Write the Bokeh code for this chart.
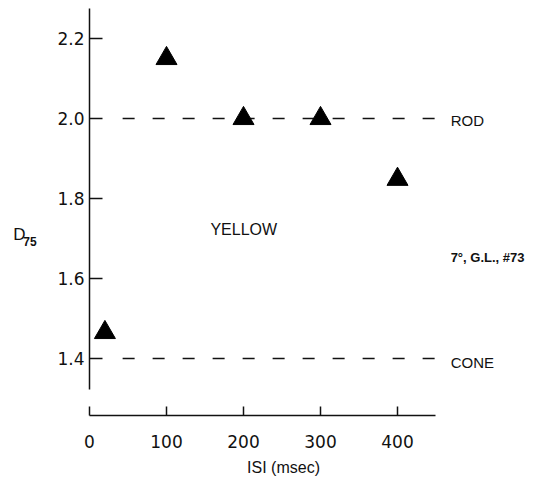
from bokeh.plotting import figure
from bokeh.models import Range1d, LinearAxis, FixedTicker, Label, ColumnDataSource, PrintfTickFormatter
from bokeh.embed import file_html
from bokeh.resources import INLINE

# data
isi = [20, 100, 200, 300, 400]
d75 = [1.465, 2.15, 2.0, 2.0, 1.848]
rod_level = 2.0
cone_level = 1.4
x_ticks = [0, 100, 200, 300, 400]
y_ticks = [1.4, 1.6, 1.8, 2.0, 2.2]
ref_x = [43, 462]

FONT = "Liberation Sans"
TICKFONT = "DejaVu Sans"
INK = "#111111"

p = figure(width=538, height=484, output_backend="svg", toolbar_location=None,
           x_range=Range1d(-115.6, 583.1), y_range=Range1d(1.085, 2.295),
           x_axis_type=None, y_axis_type=None,
           min_border_left=0, min_border_right=0, min_border_top=0, min_border_bottom=0)
p.outline_line_color = None
p.grid.visible = False
p.background_fill_color = "white"
p.border_fill_color = "white"

yax = LinearAxis(ticker=FixedTicker(ticks=y_ticks), bounds=(1.3225, 2.275),
                 formatter=PrintfTickFormatter(format="%.1f"))
yax.fixed_location = 0
yax.major_tick_in = 13
yax.major_tick_out = 0
yax.minor_tick_line_color = None
yax.major_label_standoff = 5
yax.axis_line_width = 1.5
yax.major_tick_line_width = 1.5
yax.axis_line_color = INK
yax.major_tick_line_color = INK
yax.major_label_text_font = TICKFONT
yax.major_label_text_font_size = "17px"
yax.major_label_text_color = INK
p.add_layout(yax, "left")

xax = LinearAxis(ticker=FixedTicker(ticks=x_ticks), bounds=(0, 449))
xax.fixed_location = 1.2575
xax.major_tick_in = 9
xax.major_tick_out = 0
xax.minor_tick_line_color = None
xax.major_label_standoff = 19
xax.axis_line_width = 1.5
xax.major_tick_line_width = 1.5
xax.axis_line_color = INK
xax.major_tick_line_color = INK
xax.major_label_text_font = TICKFONT
xax.major_label_text_font_size = "17px"
xax.major_label_text_color = INK
p.add_layout(xax, "below")

for lvl in (rod_level, cone_level):
    p.line(ref_x, [lvl, lvl], line_color=INK, line_width=1.5, line_dash="12 18")

src = ColumnDataSource(data=dict(x=isi, y=d75))
p.scatter("x", "y", source=src, marker="triangle", size=21, fill_color="black", line_color="black")

def lab(x, y, t, size, align="left", style="normal", font=FONT):
    p.add_layout(Label(x=x, y=y, text=t, text_font=font, text_font_size=size, text_color=INK,
                       text_align=align, text_baseline="middle", text_font_style=style))

lab(469, rod_level - 0.005, "ROD", "15px")
lab(469, cone_level - 0.01, "CONE", "15px")
lab(157, 1.7225, "YELLOW", "16px")
lab(469, 1.6525, "7°, G.L., #73", "13px", style="bold")
lab(-99, 1.71, "D", "17px")
lab(-86, 1.6925, "75", "12px", style="bold")
lab(252, 1.1275, "ISI (msec)", "16px", align="center")

open("out.html", "w").write(file_html(p, INLINE))
